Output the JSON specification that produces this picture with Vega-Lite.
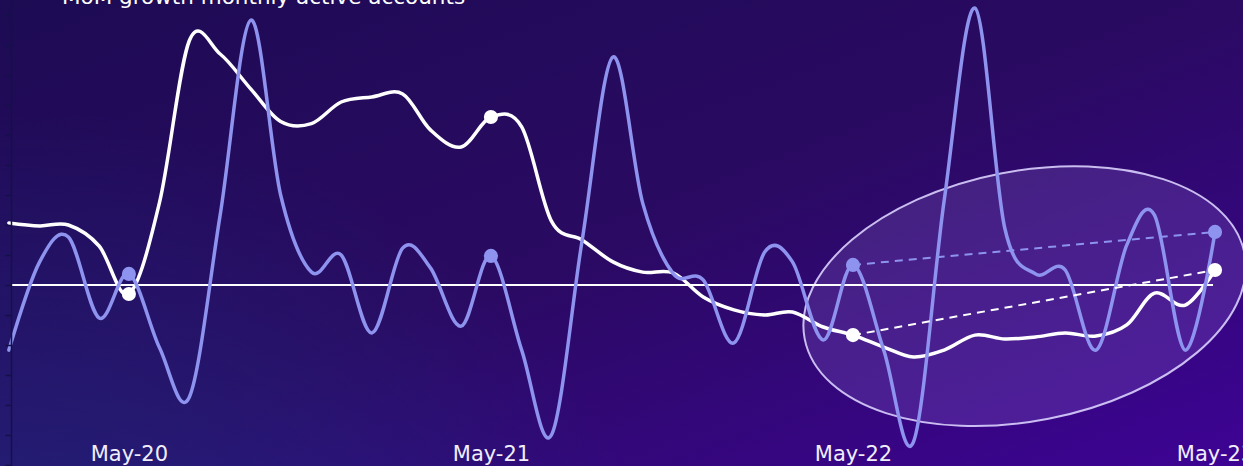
{
  "$schema": "https://vega.github.io/schema/vega-lite/v6.json",
  "width": 1243,
  "height": 466,
  "autosize": {"type": "none"},
  "padding": 0,
  "background": "#240b5c",
  "config": {"view": {"stroke": null}},
  "title": {
    "text": "MoM growth monthly active accounts",
    "anchor": "start",
    "frame": "group",
    "orient": "top",
    "offset": -25,
    "dx": 62,
    "baseline": "alphabetic",
    "color": "#ffffff",
    "font": "DejaVu Sans",
    "fontSize": 21.5,
    "fontWeight": "normal",
    "zindex": 2
  },
  "datasets": {
    "growth": [
      {"date": "2020-01-01", "series": "Active accounts", "growth": 2.07},
      {"date": "2020-02-01", "series": "Active accounts", "growth": 1.97},
      {"date": "2020-03-01", "series": "Active accounts", "growth": 2.0},
      {"date": "2020-04-01", "series": "Active accounts", "growth": 1.3},
      {"date": "2020-05-01", "series": "Active accounts", "growth": -0.3},
      {"date": "2020-06-01", "series": "Active accounts", "growth": 2.77},
      {"date": "2020-07-01", "series": "Active accounts", "growth": 8.15},
      {"date": "2020-08-01", "series": "Active accounts", "growth": 7.7},
      {"date": "2020-09-01", "series": "Active accounts", "growth": 6.53},
      {"date": "2020-10-01", "series": "Active accounts", "growth": 5.45},
      {"date": "2020-11-01", "series": "Active accounts", "growth": 5.38},
      {"date": "2020-12-01", "series": "Active accounts", "growth": 6.1},
      {"date": "2021-01-01", "series": "Active accounts", "growth": 6.27},
      {"date": "2021-02-01", "series": "Active accounts", "growth": 6.37},
      {"date": "2021-03-01", "series": "Active accounts", "growth": 5.17},
      {"date": "2021-04-01", "series": "Active accounts", "growth": 4.6},
      {"date": "2021-05-01", "series": "Active accounts", "growth": 5.6},
      {"date": "2021-06-01", "series": "Active accounts", "growth": 5.27},
      {"date": "2021-07-01", "series": "Active accounts", "growth": 2.13},
      {"date": "2021-08-01", "series": "Active accounts", "growth": 1.5},
      {"date": "2021-09-01", "series": "Active accounts", "growth": 0.77},
      {"date": "2021-10-01", "series": "Active accounts", "growth": 0.43},
      {"date": "2021-11-01", "series": "Active accounts", "growth": 0.4},
      {"date": "2021-12-01", "series": "Active accounts", "growth": -0.4},
      {"date": "2022-01-01", "series": "Active accounts", "growth": -0.83},
      {"date": "2022-02-01", "series": "Active accounts", "growth": -1.0},
      {"date": "2022-03-01", "series": "Active accounts", "growth": -0.9},
      {"date": "2022-04-01", "series": "Active accounts", "growth": -1.4},
      {"date": "2022-05-01", "series": "Active accounts", "growth": -1.67},
      {"date": "2022-06-01", "series": "Active accounts", "growth": -2.07},
      {"date": "2022-07-01", "series": "Active accounts", "growth": -2.4},
      {"date": "2022-08-01", "series": "Active accounts", "growth": -2.17},
      {"date": "2022-09-01", "series": "Active accounts", "growth": -1.67},
      {"date": "2022-10-01", "series": "Active accounts", "growth": -1.8},
      {"date": "2022-11-01", "series": "Active accounts", "growth": -1.73},
      {"date": "2022-12-01", "series": "Active accounts", "growth": -1.6},
      {"date": "2023-01-01", "series": "Active accounts", "growth": -1.7},
      {"date": "2023-02-01", "series": "Active accounts", "growth": -1.33},
      {"date": "2023-03-01", "series": "Active accounts", "growth": -0.27},
      {"date": "2023-04-01", "series": "Active accounts", "growth": -0.67},
      {"date": "2023-05-01", "series": "Active accounts", "growth": 0.5},
      {"date": "2020-01-01", "series": "New accounts", "growth": -2.17},
      {"date": "2020-02-01", "series": "New accounts", "growth": 0.77},
      {"date": "2020-03-01", "series": "New accounts", "growth": 1.6},
      {"date": "2020-04-01", "series": "New accounts", "growth": -1.1},
      {"date": "2020-05-01", "series": "New accounts", "growth": 0.37},
      {"date": "2020-06-01", "series": "New accounts", "growth": -2.1},
      {"date": "2020-07-01", "series": "New accounts", "growth": -3.73},
      {"date": "2020-08-01", "series": "New accounts", "growth": 2.33},
      {"date": "2020-09-01", "series": "New accounts", "growth": 8.83},
      {"date": "2020-10-01", "series": "New accounts", "growth": 3.0},
      {"date": "2020-11-01", "series": "New accounts", "growth": 0.43},
      {"date": "2020-12-01", "series": "New accounts", "growth": 1.0},
      {"date": "2021-01-01", "series": "New accounts", "growth": -1.6},
      {"date": "2021-02-01", "series": "New accounts", "growth": 1.23},
      {"date": "2021-03-01", "series": "New accounts", "growth": 0.57},
      {"date": "2021-04-01", "series": "New accounts", "growth": -1.37},
      {"date": "2021-05-01", "series": "New accounts", "growth": 0.97},
      {"date": "2021-06-01", "series": "New accounts", "growth": -2.17},
      {"date": "2021-07-01", "series": "New accounts", "growth": -5.0},
      {"date": "2021-08-01", "series": "New accounts", "growth": 1.5},
      {"date": "2021-09-01", "series": "New accounts", "growth": 7.6},
      {"date": "2021-10-01", "series": "New accounts", "growth": 2.73},
      {"date": "2021-11-01", "series": "New accounts", "growth": 0.37},
      {"date": "2021-12-01", "series": "New accounts", "growth": 0.17},
      {"date": "2022-01-01", "series": "New accounts", "growth": -1.93},
      {"date": "2022-02-01", "series": "New accounts", "growth": 1.1},
      {"date": "2022-03-01", "series": "New accounts", "growth": 0.77},
      {"date": "2022-04-01", "series": "New accounts", "growth": -1.83},
      {"date": "2022-05-01", "series": "New accounts", "growth": 0.67},
      {"date": "2022-06-01", "series": "New accounts", "growth": -2.17},
      {"date": "2022-07-01", "series": "New accounts", "growth": -5.23},
      {"date": "2022-08-01", "series": "New accounts", "growth": 2.83},
      {"date": "2022-09-01", "series": "New accounts", "growth": 9.23},
      {"date": "2022-10-01", "series": "New accounts", "growth": 1.9},
      {"date": "2022-11-01", "series": "New accounts", "growth": 0.37},
      {"date": "2022-12-01", "series": "New accounts", "growth": 0.5},
      {"date": "2023-01-01", "series": "New accounts", "growth": -2.17},
      {"date": "2023-02-01", "series": "New accounts", "growth": 1.33},
      {"date": "2023-03-01", "series": "New accounts", "growth": 2.33},
      {"date": "2023-04-01", "series": "New accounts", "growth": -2.17},
      {"date": "2023-05-01", "series": "New accounts", "growth": 1.77}
    ],
    "highlight": [
      {"date": "2022-10-21", "growth": -0.37}
    ],
    "baseline": [
      {"date": "2020-01-04", "end": "2023-04-29", "growth": 0}
    ]
  },
  "layer": [
    {
      "data": {"values": [{}]},
      "mark": {
        "type": "rect",
        "stroke": null,
        "fill": {
          "gradient": "linear",
          "x1": 0, "y1": 0, "x2": 1, "y2": 1,
          "stops": [
            {"offset": 0, "color": "#1d0b54"},
            {"offset": 0.5, "color": "#2a0a62"},
            {"offset": 1, "color": "#3d0394"}
          ]
        }
      },
      "encoding": {}
    },
    {
      "data": {"values": [{}]},
      "mark": {
        "type": "rect",
        "stroke": null,
        "fill": {
          "gradient": "radial",
          "x1": 0, "y1": 1, "r1": 0,
          "x2": 0, "y2": 1, "r2": 0.6,
          "stops": [
            {"offset": 0, "color": "rgba(27,50,135,0.9)"},
            {"offset": 1, "color": "rgba(27,50,135,0)"}
          ]
        }
      },
      "encoding": {}
    },
    {
      "encoding": {
        "x": {
          "field": "date",
          "type": "temporal",
          "scale": {
            "type": "utc",
            "domain": [
              {"year": 2019, "month": 12, "date": 23, "hours": 1, "minutes": 26, "utc": true},
              {"year": 2023, "month": 5, "date": 29, "hours": 5, "utc": true}
            ]
          },
          "axis": {
            "orient": "bottom",
            "zindex": 2,
            "values": [
              {"year": 2020, "month": 5, "date": 1, "utc": true},
              {"year": 2021, "month": 5, "date": 1, "utc": true},
              {"year": 2022, "month": 5, "date": 1, "utc": true},
              {"year": 2023, "month": 5, "date": 1, "utc": true}
            ],
            "labelExpr": "utcFormat(datum.value, '%b-%y')",
            "domain": false,
            "ticks": false,
            "tickSize": 0,
            "grid": false,
            "title": null,
            "labelFont": "DejaVu Sans",
            "labelFontSize": 21,
            "labelColor": "#f0eefa",
            "labelBaseline": "alphabetic",
            "labelPadding": 0,
            "labelAngle": 0,
            "labelFlush": false,
            "labelOverlap": false,
            "offset": -6
          }
        },
        "y": {
          "field": "growth",
          "type": "quantitative",
          "scale": {"domain": [-6.0333, 9.5], "nice": false, "zero": false},
          "axis": {
            "orient": "left",
            "zindex": 2,
            "offset": -11,
            "labels": false,
            "ticks": true,
            "tickSize": 6,
            "tickWidth": 1.5,
            "tickColor": "#15104a",
            "domainColor": "#15104a",
            "domainWidth": 1.5,
            "values": [-6, -5, -4, -3, -2, -1, 0, 1, 2, 3, 4, 5, 6, 7, 8, 9],
            "grid": false,
            "title": null
          }
        }
      },
      "layer": [
        {
          "data": {"name": "highlight"},
          "mark": {
            "type": "point",
            "shape": "M -1 0 A 1 0.558 0 1 1 1 0 A 1 0.558 0 1 1 -1 0 Z",
            "size": 200704,
            "angle": -11,
            "filled": true,
            "fill": "#c0a0ff",
            "fillOpacity": 0.16,
            "stroke": "#d2c7f7",
            "strokeWidth": 2,
            "strokeOpacity": 0.95,
            "opacity": 1
          }
        },
        {
          "data": {"name": "baseline"},
          "mark": {"type": "rule", "color": "#ffffff", "strokeWidth": 2},
          "encoding": {"x2": {"field": "end"}}
        },
        {
          "data": {"name": "growth"},
          "mark": {
            "type": "line",
            "interpolate": "cardinal",
            "strokeWidth": 3.5,
            "clip": true,
            "strokeCap": "round"
          },
          "encoding": {
            "color": {
              "field": "series",
              "type": "nominal",
              "scale": {"domain": ["Active accounts", "New accounts"], "range": ["#ffffff", "#8d93ee"]},
              "legend": null
            }
          }
        },
        {
          "data": {"name": "growth"},
          "transform": [
            {"filter": "utcmonth(toDate(datum.date)) === 4 && utcyear(toDate(datum.date)) >= 2022"}
          ],
          "mark": {"type": "line", "strokeWidth": 2, "strokeDash": [8, 6]},
          "encoding": {
            "color": {"field": "series", "type": "nominal", "legend": null}
          }
        },
        {
          "data": {"name": "growth"},
          "transform": [
            {"filter": "utcmonth(toDate(datum.date)) === 4"}
          ],
          "mark": {"type": "point", "filled": true, "size": 200, "opacity": 1},
          "encoding": {
            "color": {"field": "series", "type": "nominal", "legend": null}
          }
        }
      ]
    }
  ]
}
